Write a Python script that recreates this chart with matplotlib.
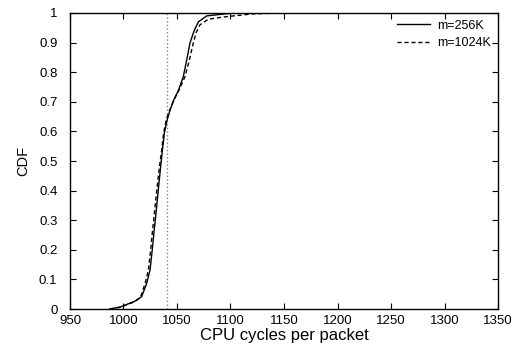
import matplotlib
matplotlib.use("Agg")
import matplotlib.pyplot as plt
from matplotlib.ticker import FuncFormatter

plt.rcParams['font.family'] = ['Liberation Sans', 'DejaVu Sans']

# m=256K curve (cycles, cdf)
x_256 = [987, 997, 1011, 1017, 1021.7, 1024.8, 1026.9, 1028.5, 1030, 1031.6, 1033, 1034.7, 1036.5,
         1038.2, 1040.5, 1043.5, 1047, 1051.5, 1055.9, 1059, 1062.1, 1066, 1070, 1077.8, 1095, 1105]
y_256 = [0.0, 0.007, 0.027, 0.042, 0.087, 0.132, 0.2, 0.26, 0.31, 0.368, 0.42, 0.48, 0.54,
         0.594, 0.635, 0.672, 0.706, 0.74, 0.785, 0.84, 0.898, 0.94, 0.97, 0.99, 0.997, 1.0]

# m=1024K curve
x_1024 = [987, 997, 1010, 1016, 1020.2, 1023.3, 1025.4, 1027, 1028.5, 1030.1, 1031.7, 1033.6, 1035.7,
          1037.5, 1040, 1043.5, 1047, 1052, 1057.5, 1061.5, 1065.2, 1068, 1071.5, 1079.3, 1095, 1121, 1150]
y_1024 = [0.0, 0.006, 0.024, 0.04, 0.087, 0.132, 0.2, 0.26, 0.31, 0.368, 0.42, 0.48, 0.537,
          0.594, 0.64, 0.675, 0.706, 0.74, 0.785, 0.84, 0.898, 0.935, 0.96, 0.979, 0.987, 0.997, 1.0]

vline_x = 1041

fig = plt.figure(figsize=(5.25, 3.5), dpi=100)
ax = fig.add_axes([0.1333, 0.117, 0.8153, 0.846])

ax.axvline(vline_x, color='#808080', linestyle=':', linewidth=1.0)
ax.plot(x_256, y_256, color='black', linewidth=1.0, label='m=256K')
ax.plot(x_1024, y_1024, color='black', linewidth=1.0, linestyle=(0, (3, 2)), label='m=1024K')

ax.set_xlim(950, 1350)
ax.set_ylim(0, 1)
ax.set_xticks(range(950, 1351, 50))
ax.set_yticks([i / 10 for i in range(11)])
ax.yaxis.set_major_formatter(FuncFormatter(lambda v, p: f"{v:g}"))
ax.tick_params(direction='in', top=True, right=True, length=4, width=0.8, labelsize=9.5)
ax.tick_params(axis='y', pad=9)
ax.tick_params(axis='x', pad=4)
for s in ax.spines.values():
    s.set_linewidth(1.0)

ax.set_xlabel('CPU cycles per packet', fontsize=12, labelpad=1)
ax.set_ylabel('CDF', fontsize=10.5, labelpad=6)

leg = ax.legend(loc='upper right', frameon=False, fontsize=9, handlelength=2.6,
                handletextpad=0.6, borderaxespad=0.15, labelspacing=0.45)

fig.savefig('out.png', dpi=100)
